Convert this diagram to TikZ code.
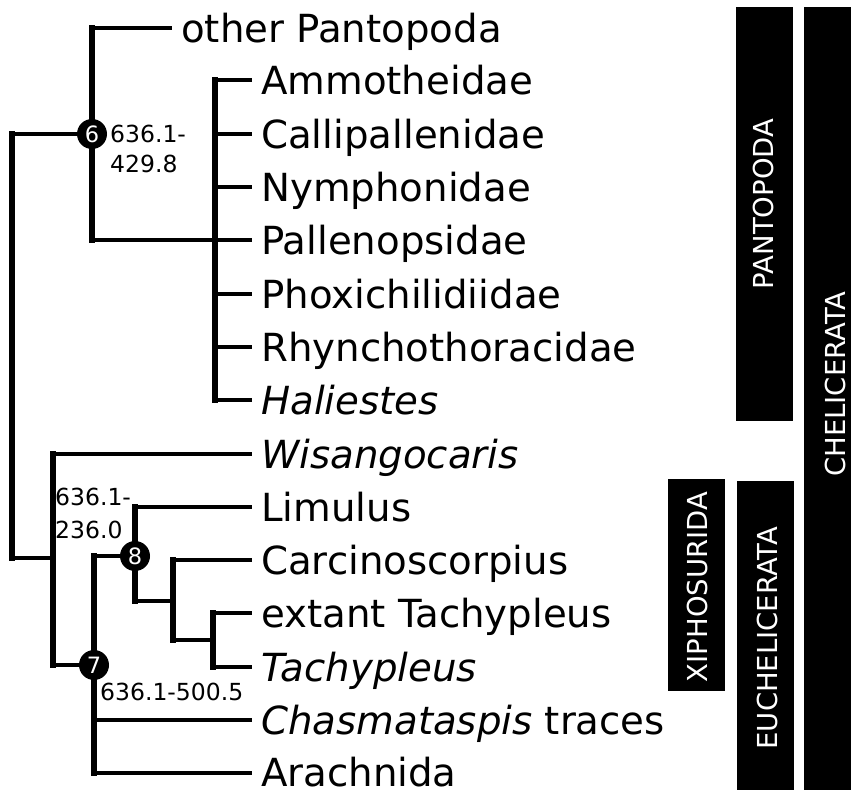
\documentclass[tikz,border=0pt]{standalone}
\usepackage{fontspec}
\setmainfont{DejaVu Sans}
\begin{document}
\begin{tikzpicture}[x=1pt,y=-1pt,
  hl/.style={line width=3.2pt},
  vl/.style={line width=5.2pt, line cap=rect},
  leaf/.style={anchor=base west, inner sep=0pt, text depth=0pt, font=\fontsize{38.7}{40}\selectfont},
  num/.style={circle, fill=black, minimum size=30pt, inner sep=0pt, text=white, font=\fontsize{22.5}{24}\selectfont},
  age/.style={anchor=base west, inner sep=0pt, font=\fontsize{23.5}{28}\selectfont},
  bar/.style={fill=black},
  barlabel/.style={rotate=90, text=white, inner sep=0pt, font=\fontsize{27.5}{30}\selectfont}]
\useasboundingbox (0,0) rectangle (851,790);

% leaves
\node[leaf] (l1) at (181,42) {other Pantopoda};
\node[leaf] (l2) at (261,94) {Ammotheidae};
\node[leaf] (l3) at (261,148) {Callipallenidae};
\node[leaf] (l4) at (261,201) {Nymphonidae};
\node[leaf] (l5) at (261,254) {Pallenopsidae};
\node[leaf] (l6) at (261,308) {Phoxichilidiidae};
\node[leaf] (l7) at (261,361) {Rhynchothoracidae};
\node[leaf] (l8) at (261,414) {\itshape Haliestes};
\node[leaf] (l9) at (261,468) {\itshape Wisangocaris};
\node[leaf] (l10) at (261,521) {Limulus};
\node[leaf] (l11) at (261,574) {Carcinoscorpius};
\node[leaf] (l12) at (261,627) {extant Tachypleus};
\node[leaf] (l13) at (261,681) {\itshape Tachypleus};
\node[leaf] (l14) at (261,734) {\textit{Chasmataspis} traces};
\node[leaf] (l15) at (261,786) {Arachnida};

% junction coordinates
\coordinate (r1) at (12,134);
\coordinate (r2) at (12,558);
\coordinate (p1) at (92,28);
\coordinate (p2) at (92,240);
\coordinate (f1) at (215,80);
\coordinate (f2) at (215,400);
\coordinate (e1) at (53,454);
\coordinate (e2) at (53,665);
\coordinate (n7t) at (94,556);
\coordinate (n7b) at (94,773);
\coordinate (n8t) at (135,507);
\coordinate (n8b) at (135,601);
\coordinate (c1) at (173,560);
\coordinate (c2) at (173,640);
\coordinate (t1) at (213,613);
\coordinate (t2) at (213,667);

% verticals
\draw[vl] (r1) -- (r2);
\draw[vl] (p1) -- (p2);
\draw[vl] (f1) -- (f2);
\draw[vl] (e1) -- (e2);
\draw[vl] (n7t) -- (n7b);
\draw[vl] (n8t) -- (n8b);
\draw[vl] (c1) -- (c2);
\draw[vl] (t1) -- (t2);

% horizontals
\draw[hl] (r1) -- (92,134);
\draw[hl] (r2) -- (53,558);
\draw[hl] (p1) -- (172,28);
\draw[hl] (p2) -- (252,240);
\foreach \y in {80,134,187,294,347,400} \draw[hl] (215,\y) -- (252,\y);
\draw[hl] (e1) -- (252,454);
\draw[hl] (e2) -- (94,665);
\draw[hl] (n7t) -- (135,556);
\draw[hl] (94,720) -- (252,720);
\draw[hl] (n7b) -- (252,773);
\draw[hl] (n8t) -- (252,507);
\draw[hl] (n8b) -- (173,601);
\draw[hl] (c1) -- (252,560);
\draw[hl] (c2) -- (213,640);
\draw[hl] (t1) -- (252,613);
\draw[hl] (t2) -- (252,667);

% numbered nodes
\node[num] (n6) at (92,134) {6};
\node[num] (n7) at (94,665) {7};
\node[num] (n8) at (135,556) {8};

% ages
\node[age] (a6a) at (110,142) {636.1-};
\node[age] (a6b) at (110,172) {429.8};
\node[age] (a8a) at (55,505) {636.1-};
\node[age] (a8b) at (55,538) {236.0};
\node[age] (a7) at (100,700) {636.1-500.5};

% bars
\fill[bar] (736,7) rectangle (793,421);
\node[barlabel] (bp) at (763,204) {PANTOPODA};
\fill[bar] (804,7) rectangle (851,790);
\node[barlabel] (bc) at (835,384) {CHELICERATA};
\fill[bar] (668,479) rectangle (725,691);
\node[barlabel] (bx) at (697,587) {XIPHOSURIDA};
\fill[bar] (737,481) rectangle (794,790);
\node[barlabel] (be) at (767,638) {EUCHELICERATA};
\end{tikzpicture}
\end{document}
